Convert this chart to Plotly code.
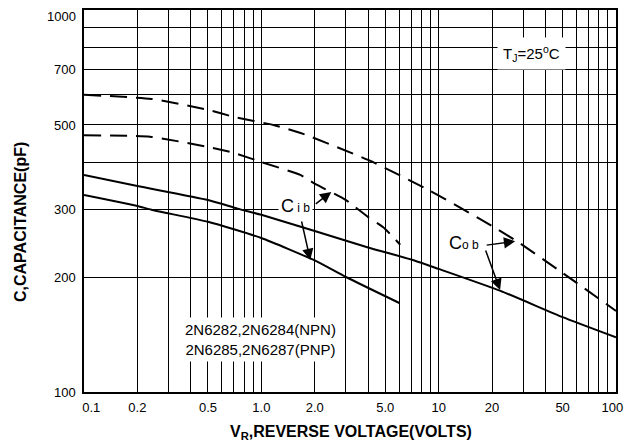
import numpy as np
import plotly.graph_objects as go

# ---- data ----
x_grid = [0.1, 0.2, 0.3, 0.4, 0.5, 0.6, 0.7, 0.8, 0.9,
          1, 2, 3, 4, 5, 6, 7, 8, 9,
          10, 20, 30, 40, 50, 60, 70, 80, 90, 100]
x_labels = {0.1: "\u00a0\u00a0\u00a0\u00a00.1", 0.2: "0.2", 0.5: "0.5", 1: "1.0", 2: "2.0",
            5: "5.0", 10: "10", 20: "20", 50: "50", 100: "100\u00a0\u00a0"}
y_grid = [100, 200, 300, 400, 500, 600, 700, 800, 900, 1000]
y_labels = {100: "100", 200: "200", 300: "300", 500: "500", 700: "700"}
y_top_label = "1000"

# Cob (dashed, upper)
cob_dash_v = [0.1, 0.24, 0.5, 0.7, 1.17, 1.72, 4.0, 9.0, 20, 28, 50, 100]
cob_dash_c = [600, 585, 548, 525, 500, 474, 405, 336, 272, 247, 205, 163]
# Cib (dashed, lower)
cib_dash_v = [0.1, 0.236, 0.5, 0.695, 1.0, 1.66, 2.0, 3.0, 4.0, 4.87, 6.07]
cib_dash_c = [470, 466, 438, 423, 400, 370, 351, 318, 287, 270, 243]
# Cob (solid, upper)
cob_solid_v = [0.1, 0.2, 0.5, 0.735, 1.0, 2.0, 4.0, 7.29, 10, 22.3, 50, 100]
cob_solid_c = [370, 346, 318, 302, 291, 264, 239, 221, 210, 184, 157, 139]
# Cib (solid, lower)
cib_solid_v = [0.1, 0.2, 0.24, 0.5, 1.0, 2.0, 3.0, 6.0]
cib_solid_c = [328, 307, 300, 279, 253, 221, 200, 171]

FONT = "Liberation Sans, Arial, sans-serif"

fig = go.Figure()
line_w = 2
for xs, ys, dash in [(cob_dash_v, cob_dash_c, "17px,9px"), (cib_dash_v, cib_dash_c, "17px,9px"),
                     (cob_solid_v, cob_solid_c, "solid"), (cib_solid_v, cib_solid_c, "solid")]:
    fig.add_trace(go.Scatter(x=xs, y=ys, mode="lines",
                             line=dict(color="black", width=line_w, dash=dash, shape="spline", smoothing=0.5),
                             showlegend=False, hoverinfo="skip"))

L = np.log10
annotations = []
# arrows: (head x, head y, ax, ay)
arrows = [(2.48, 334, -17, 13), (10 ** 0.276, 10 ** 2.3455, -9, -40),
          (27.0, 248, -30, 4), (22.2, 185, -15, -41)]
for hx, hy, ax, ay in arrows:
    annotations.append(dict(x=L(hx), y=L(hy), xref="x", yref="y", ax=ax, ay=ay, text="",
                            showarrow=True, arrowhead=2, arrowsize=1.5, arrowwidth=1.5,
                            arrowcolor="black"))
txt_font = dict(family=FONT, size=15, color="black")
C = dict(xanchor="center", yanchor="middle", showarrow=False)
annotations += [
    dict(x=L(1.55), y=L(307), xref="x", yref="y", bgcolor="white", borderpad=2,
         text="C<span style='font-size:12px'> i b</span>", font=dict(family=FONT, size=18, color="black"), **C),
    dict(x=L(13.9), y=L(245), xref="x", yref="y", bgcolor="white", borderpad=2,
         text="C<span style='font-size:12px'>o b</span>", font=dict(family=FONT, size=18, color="black"), **C),
    dict(x=1.522, y=2.887, xref="x", yref="y", bgcolor="white", borderpad=5,
         text="T<sub>J</sub>=25<sup>o</sup>C", font=txt_font, **C),
    dict(x=-0.006, y=2.138, xref="x", yref="y", bgcolor="white", borderpad=3,
         text="2N6282,2N6284(NPN)<br>2N6285,2N6287(PNP)", font=txt_font, **C),
    dict(x=-0.1203, y=0.445, xref="paper", yref="paper", textangle=-90,
         text="<b>C,CAPACITANCE(pF)</b>", font=dict(family=FONT, size=16, color="black"), **C),
    dict(x=0.502, y=-0.105, xref="paper", yref="paper",
         text="<b>V<sub>R</sub>,REVERSE VOLTAGE(VOLTS)</b>", font=dict(family=FONT, size=16, color="black"), **C),
    dict(x=0, y=1, xref="paper", yref="paper", xanchor="right", yanchor="middle", xshift=-6, yshift=-6,
         showarrow=False, text=y_top_label, font=dict(family=FONT, size=13, color="black")),
]

# the page adds an 8px body margin, so the figure is sized to fit the 636x444 window
fig.update_layout(
    width=628, height=436,
    margin=dict(l=76, r=20, t=2, b=52, autoexpand=False),
    paper_bgcolor="white", plot_bgcolor="white",
    annotations=annotations,
    xaxis=dict(type="log", range=[-1, 2], tickvals=x_grid, automargin=False,
               ticktext=[x_labels.get(v, "") for v in x_grid],
               showgrid=True, gridcolor="black", gridwidth=1, zeroline=False,
               showline=True, mirror=True, linecolor="black", linewidth=1.5,
               ticks="", ticklabelstandoff=3,
               tickfont=dict(family=FONT, size=13, color="black")),
    yaxis=dict(type="log", range=[2, 3], tickvals=y_grid, automargin=False,
               ticktext=[y_labels.get(v, "") for v in y_grid],
               showgrid=True, gridcolor="black", gridwidth=1, zeroline=False,
               showline=True, mirror=True, linecolor="black", linewidth=1.5,
               ticks="", ticklabelstandoff=4,
               tickfont=dict(family=FONT, size=13, color="black")),
    showlegend=False,
)

fig.write_html("out.html")
